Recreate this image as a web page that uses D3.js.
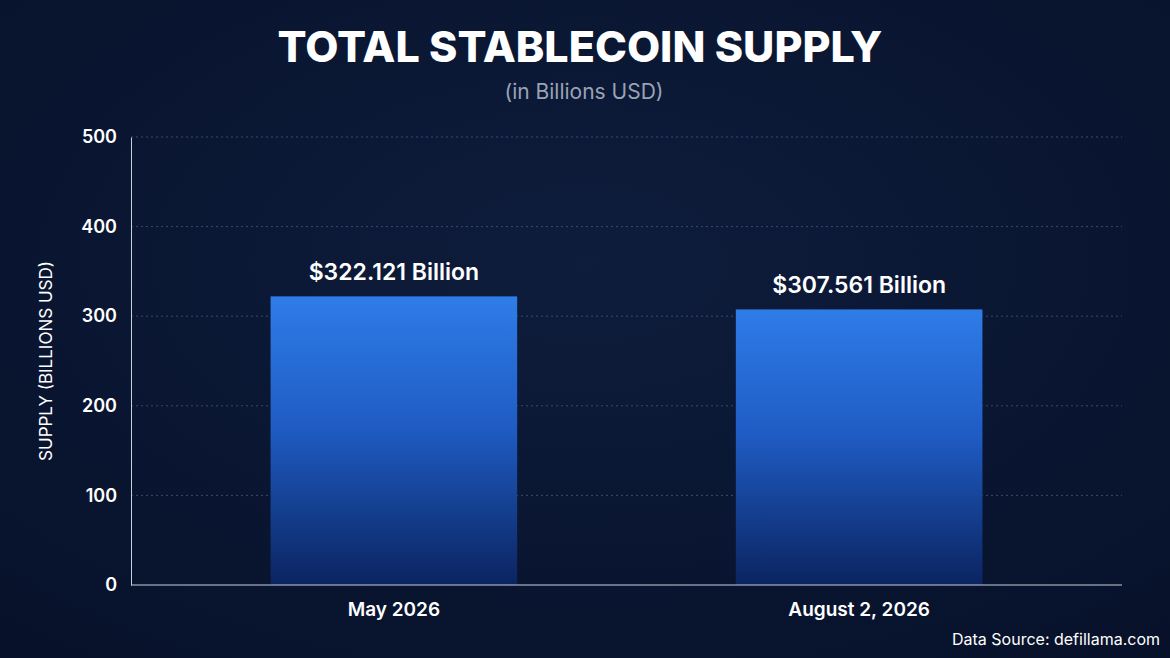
<!DOCTYPE html>
<html><head><meta charset="utf-8">
<script src="https://cdn.jsdelivr.net/npm/d3@7"></script>
<style>body{margin:0;background:#0a1630;}</style>
</head><body>
<div id="chart"></div>
<script>
// chart data
const CATEGORIES = ["May 2026", "August 2, 2026"];
const SUPPLY = [322.121, 307.561];
const BAR_LABELS = ["$322.121 Billion", "$307.561 Billion"];
const Y_TICKS = [0, 100, 200, 300, 400, 500];

const W = 1170, H = 658;
const M = { top: 137, right: 48, bottom: 73, left: 131 };

const svg = d3.select("#chart").append("svg").attr("width", W).attr("height", H)
  .style("font-family", "Inter, 'Open Sans', sans-serif");

// background
const defs = svg.append("defs");
const bg = defs.append("radialGradient").attr("id", "bg").attr("cx", "50%").attr("cy", "40%").attr("r", "75%");
bg.append("stop").attr("offset", "0%").attr("stop-color", "#0e1d3c");
bg.append("stop").attr("offset", "100%").attr("stop-color", "#07112a");
svg.append("rect").attr("width", W).attr("height", H).attr("fill", "url(#bg)");

const grad = defs.append("linearGradient").attr("id", "bar").attr("x1", 0).attr("y1", 0).attr("x2", 0).attr("y2", 1);
grad.append("stop").attr("offset", "0%").attr("stop-color", "#2f7ce8");
grad.append("stop").attr("offset", "45%").attr("stop-color", "#1f5cc4");
grad.append("stop").attr("offset", "100%").attr("stop-color", "#0b2460");

const x = d3.scaleBand().domain(CATEGORIES).range([M.left, W - M.right])
  .paddingInner(0.47).paddingOuter(0.3);
const y = d3.scaleLinear().domain([0, 500]).range([H - M.bottom, M.top]);

// gridlines
svg.append("g").selectAll("line").data(Y_TICKS.slice(1)).enter().append("line")
  .attr("x1", M.left).attr("x2", W - M.right)
  .attr("y1", d => y(d)).attr("y2", d => y(d))
  .attr("stroke", "#3a4a6a").attr("stroke-dasharray", "2,3").attr("stroke-width", 1);

// bars
svg.selectAll(".bar").data(SUPPLY).enter().append("rect")
  .attr("x", (d, i) => x(CATEGORIES[i]))
  .attr("y", d => y(d))
  .attr("width", x.bandwidth())
  .attr("height", d => y(0) - y(d))
  .attr("fill", "url(#bar)");

// value labels
svg.selectAll(".lbl").data(SUPPLY).enter().append("text")
  .attr("x", (d, i) => x(CATEGORIES[i]) + x.bandwidth() / 2)
  .attr("y", d => y(d) - 16)
  .attr("text-anchor", "middle").attr("fill", "#fff")
  .style("font-size", "23px").style("font-weight", 600)
  .text((d, i) => BAR_LABELS[i]);

// axes
const yAxis = svg.append("g").attr("transform", `translate(${M.left},0)`)
  .call(d3.axisLeft(y).tickValues(Y_TICKS).tickSize(0).tickPadding(14));
yAxis.select(".domain").attr("stroke", "#c8cfdc");
yAxis.selectAll("text").attr("fill", "#fff").style("font-size", "18px").style("font-weight", 600)
  .style("font-family", "Inter, sans-serif");

const xAxis = svg.append("g").attr("transform", `translate(0,${y(0)})`)
  .call(d3.axisBottom(x).tickSize(0).tickPadding(18));
xAxis.select(".domain").attr("stroke", "#c8cfdc").attr("d", `M${M.left},0H${W - M.right}`);
xAxis.selectAll("text").attr("fill", "#fff").style("font-size", "19px").style("font-weight", 600)
  .style("font-family", "Inter, sans-serif");

// titles
svg.append("text").attr("x", 580).attr("y", 62).attr("text-anchor", "middle")
  .attr("fill", "#fff").style("font-size", "43px").style("font-weight", 800)
  .text("TOTAL STABLECOIN SUPPLY");
svg.append("text").attr("x", 584).attr("y", 99).attr("text-anchor", "middle")
  .attr("fill", "#9aa3b5").style("font-size", "21px")
  .text("(in Billions USD)");

svg.append("text").attr("transform", `translate(52,${(M.top + H - M.bottom) / 2}) rotate(-90)`)
  .attr("text-anchor", "middle").attr("fill", "#fff").style("font-size", "17px")
  .text("SUPPLY (BILLIONS USD)");

svg.append("text").attr("x", 1160).attr("y", 645).attr("text-anchor", "end")
  .attr("fill", "#fff").style("font-size", "16px")
  .text("Data Source: defillama.com");
</script>
</body></html>
